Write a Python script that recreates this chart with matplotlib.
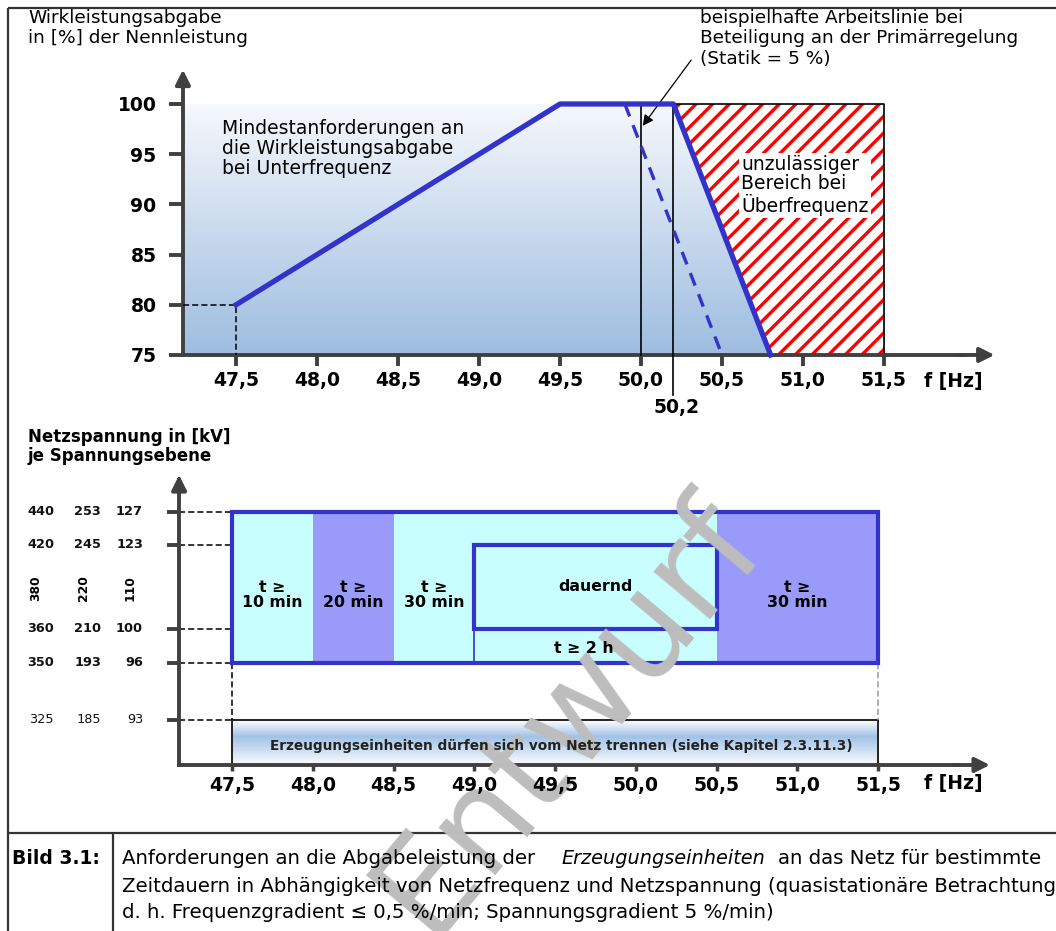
## Anforderungen an die Abgabeleistung von Erzeugungseinheiten
## two schematic panels: power vs. frequency, voltage band vs. frequency

import numpy as np
import matplotlib
matplotlib.use('Agg')
import matplotlib.pyplot as plt
from matplotlib.patches import Rectangle, Polygon
from matplotlib.colors import LinearSegmentedColormap
from matplotlib import transforms

## DATA
# upper panel: minimum active power (% of rated) over frequency
curve_f = [47.5, 49.5, 50.2, 50.8]
curve_p = [80, 100, 100, 75]
statik_f = [49.9, 50.5]           # example droop line (Statik = 5 %)
statik_p = [100, 75]
forbidden_f = [50.2, 51.5, 51.5, 50.8]
forbidden_p = [100, 100, 75, 75]
marker_f = [50.0, 50.2]

f_ticks = [47.5, 48.0, 48.5, 49.0, 49.5, 50.0, 50.5, 51.0, 51.5]
f_labels = ['47,5', '48,0', '48,5', '49,0', '49,5', '50,0', '50,5', '51,0', '51,5']
p_ticks = [75, 80, 85, 90, 95, 100]

# lower panel: voltage levels per grid level (kV)
kv_380 = [440, 420, 360, 350, 325]
kv_220 = [253, 245, 210, 193, 185]
kv_110 = [127, 123, 100, 96, 93]
nominal_kv = ['380', '220', '110']

zone_from = [47.5, 48.0, 48.5, 50.5]
zone_to = [48.0, 48.5, 50.5, 51.5]
zone_dark = [False, True, False, True]
zone_text = ['t ≥\n10 min', 't ≥\n20 min', 't ≥\n30 min', 't ≥\n30 min']
zone_text_f = [47.75, 48.25, 48.75, 51.0]

band_f = [47.5, 51.5]
band_kv = [350, 440]
cont_f = [49.0, 50.5]         # 'dauernd'
cont_kv = [360, 420]
trip_kv = 325

caption = ['Anforderungen an die Abgabeleistung der',
           'Erzeugungseinheiten',
           'an das Netz für bestimmte',
           'Zeitdauern in Abhängigkeit von Netzfrequenz und Netzspannung (quasistationäre Betrachtung,',
           'd. h. Frequenzgradient ≤ 0,5 %/min; Spannungsgradient 5 %/min)']

## STYLE
W, H = 1056, 931
BLUE = '#3333cc'
AXC = '#404040'
CYAN = '#c8fffe'
LAV = '#9a9afa'
DASH = (0, (4, 2))

fig = plt.figure(figsize=(W / 100, H / 100), dpi=100)
plt.rcParams['hatch.linewidth'] = 2.4


def px_axes(l, t, r, b):
    # axes placed by pixel box of the reference picture
    ax = fig.add_axes([l / W, 1 - b / H, (r - l) / W, (b - t) / H])
    ax.set_facecolor('none')
    return ax


## BACKGROUND: frame, caption lines, free texts
bg = px_axes(0, 0, W, H)
bg.set_xlim(0, W)
bg.set_ylim(H, 0)
bg.axis('off')
for xs, ys in [([8, W], [8, 8]), ([8, 8], [8, H]), ([8, W], [833, 833]), ([113, 113], [833, H])]:
    bg.plot(xs, ys, color='#333333', lw=1.6, solid_capstyle='butt')

bg.text(28, 9, 'Wirkleistungsabgabe\nin [%] der Nennleistung', va='top', fontsize=13.3, linespacing=1.15)
bg.text(700, 9, 'beispielhafte Arbeitslinie bei\nBeteiligung an der Primärregelung\n(Statik = 5 %)',
        va='top', fontsize=13.3, linespacing=1.17)
bg.text(28, 428, 'Netzspannung in [kV]\nje Spannungsebene', va='top', fontsize=12, fontweight='bold',
        linespacing=1.05)
bg.text(953, 382, 'f [Hz]', ha='center', va='center', fontsize=13.5, fontweight='bold')
bg.text(953, 783, 'f [Hz]', ha='center', va='center', fontsize=13.5, fontweight='bold')
bg.text(677, 407, '50,2', ha='center', va='center', fontsize=13.5, fontweight='bold')

## UPPER PANEL
ax1 = px_axes(140, 55, 1010, 415)
x0 = 47.172   # position of the y axis

cm_top = LinearSegmentedColormap.from_list('top', ['#9dbde0', '#f6f8fc'])
ax1.imshow(np.linspace(0, 1, 256).reshape(-1, 1), extent=(x0, forbidden_f[1], 75, 100),
           origin='lower', cmap=cm_top, aspect='auto', zorder=0)
ax1.set_xlim(46.907, 52.278)
ax1.set_ylim(69.02, 104.88)

ax1.add_patch(Polygon(list(zip(forbidden_f, forbidden_p)), closed=True, facecolor='white',
                      edgecolor='red', hatch='//', lw=0, zorder=1))
ax1.plot(forbidden_f[:3], forbidden_p[:3], color='black', lw=1.2, zorder=2)

ax1.plot([marker_f[0]] * 2, [100, 75], color='black', lw=1.2, zorder=3)
ax1.plot([marker_f[1]] * 2, [100, 71.0], color='black', lw=1.2, zorder=3, clip_on=False)
ax1.plot([x0, curve_f[0], curve_f[0]], [curve_p[0], curve_p[0], 75], color='black', lw=1.1,
         ls=DASH, zorder=3)

ax1.plot(statik_f, statik_p, color=BLUE, lw=2.4, ls=(0, (4, 2.8)), zorder=4)
ax1.plot(curve_f, curve_p, color=BLUE, lw=3.8, zorder=5)

ax1.text(47.414, 98.5, 'Mindestanforderungen an\ndie Wirkleistungsabgabe\nbei Unterfrequenz',
         va='top', fontsize=13.5, linespacing=1.05)
ax1.text(50.62, 94.9, 'unzulässiger\nBereich bei\nÜberfrequenz', va='top', fontsize=13.5, linespacing=1.02,
         zorder=6, bbox=dict(facecolor='white', edgecolor='none', pad=1.5))
ax1.annotate('', xy=(50.0, 97.6), xytext=(50.32, 104.6), annotation_clip=False,
             arrowprops=dict(arrowstyle='-|>', color='black', lw=0.9, mutation_scale=16))

for s in ['top', 'right']:
    ax1.spines[s].set_visible(False)
ax1.spines['left'].set_position(('data', x0))
ax1.spines['left'].set_bounds(75, 102.8)
ax1.spines['bottom'].set_position(('data', 75))
ax1.spines['bottom'].set_bounds(x0, 52.0)
for s in ['left', 'bottom']:
    ax1.spines[s].set_linewidth(2.8)
    ax1.spines[s].set_color(AXC)
    ax1.spines[s].set_capstyle('projecting')
ax1.annotate('', xy=(x0, 103.7), xytext=(x0, 102.0), annotation_clip=False,
             arrowprops=dict(arrowstyle='-|>', color=AXC, lw=2.8, mutation_scale=22))
ax1.annotate('', xy=(52.2, 75), xytext=(51.95, 75), annotation_clip=False,
             arrowprops=dict(arrowstyle='-|>', color=AXC, lw=2.8, mutation_scale=22))

ax1.set_xticks(f_ticks)
ax1.set_xticklabels(f_labels, fontsize=13.5, fontweight='bold')
ax1.set_yticks(p_ticks)
ax1.set_yticklabels([str(p) for p in p_ticks], fontsize=13.5, fontweight='bold')
ax1.tick_params(axis='x', length=8, width=2.8, color=AXC, pad=3.5)
ax1.tick_params(axis='y', length=10, width=2.8, color=AXC, pad=9)

## LOWER PANEL
ax2 = px_axes(140, 460, 1010, 800)
# schematic (not to scale) voltage axis: piecewise linear through the marked levels
axis_kv = [200, 300, 325, 350, 360, 420, 440, 600]
axis_h = [-100, 0, 45, 102, 136, 220, 253, 380]
ax2.set_yscale('function', functions=(lambda v: np.interp(v, axis_kv, axis_h),
                                      lambda h: np.interp(h, axis_h, axis_kv)))
ax2.set_xlim(46.930, 52.317)
ax2.set_ylim(265, 505.5)
base = 300

for zf, zt, dark in zip(zone_from, zone_to, zone_dark):
    ax2.add_patch(Rectangle((zf, band_kv[0]), zt - zf, band_kv[1] - band_kv[0],
                            facecolor=LAV if dark else CYAN, lw=0, zorder=1))
ax2.add_patch(Rectangle((band_f[0], band_kv[0]), band_f[1] - band_f[0], band_kv[1] - band_kv[0],
                        fill=False, edgecolor=BLUE, lw=3, zorder=3))
ax2.add_patch(Rectangle((cont_f[0], cont_kv[0]), cont_f[1] - cont_f[0], cont_kv[1] - cont_kv[0],
                        fill=False, edgecolor=BLUE, lw=3, zorder=3))
ax2.plot([cont_f[0]] * 2, [cont_kv[0], band_kv[0]], color=BLUE, lw=1.2, zorder=2)

# gradient box below the lowest voltage
yy = np.linspace(base, trip_kv, 60)
shade = np.interp((yy[:-1] - base) / (trip_kv - base), [0, 0.62, 1], [0.05, 1, 0.0])
cm_trip = LinearSegmentedColormap.from_list('trip', ['#ffffff', '#a2c2e6'])
ax2.pcolormesh(band_f, yy, shade.reshape(-1, 1), cmap=cm_trip, vmin=0, vmax=1, shading='flat', zorder=1)
ax2.add_patch(Rectangle((band_f[0], base), band_f[1] - band_f[0], trip_kv - base,
                        fill=False, edgecolor='#222222', lw=1.4, zorder=2))
ax2.text(49.54, 310.6, 'Erzeugungseinheiten dürfen sich vom Netz trennen (siehe Kapitel 2.3.11.3)',
         ha='center', va='center', fontsize=9.8, fontweight='bold', color='#222222', zorder=6)

for v in kv_380:
    ax2.plot([x0, band_f[0]], [v, v], color='black', lw=1.1, ls=DASH, zorder=2)
ax2.plot([band_f[0]] * 2, [band_kv[0], trip_kv], color='black', lw=1.1, ls=DASH, zorder=2)
ax2.plot([band_f[1]] * 2, [band_kv[0], trip_kv], color='#999999', lw=1.1, ls=DASH, zorder=2)

for txt, f in zip(zone_text, zone_text_f):
    ax2.text(f, 384.3, txt, ha='center', va='center', fontsize=11.3, fontweight='bold',
             linespacing=0.95, zorder=6)
ax2.text(49.75, 390, 'dauernd', ha='center', va='center', fontsize=11.3, fontweight='bold', zorder=6)
ax2.text(49.68, 354.4, 't ≥ 2 h', ha='center', va='center', fontsize=11.3, fontweight='bold', zorder=6)

# voltage level labels, three columns
tr = transforms.blended_transform_factory(bg.transData, ax2.transData)
for col_x, col in zip([54, 101, 143], [kv_380, kv_220, kv_110]):
    for i, v in enumerate(col):
        ax2.text(col_x, kv_380[i], str(v), transform=tr, ha='right', va='center', fontsize=9.3,
                 fontweight='bold' if i < len(col) - 1 else 'normal', color='#111111')
for col_x, s in zip([36, 83, 130], nominal_kv):
    ax2.text(col_x, 389, s, transform=tr, ha='center', va='center', rotation=90, fontsize=8.8,
             fontweight='bold')

for s in ['top', 'right']:
    ax2.spines[s].set_visible(False)
ax2.spines['left'].set_position(('data', x0))
ax2.spines['left'].set_bounds(base, 480)
ax2.spines['bottom'].set_position(('data', base))
ax2.spines['bottom'].set_bounds(x0, 52.0)
for s in ['left', 'bottom']:
    ax2.spines[s].set_linewidth(2.8)
    ax2.spines[s].set_color(AXC)
    ax2.spines[s].set_capstyle('projecting')
ax2.annotate('', xy=(x0, 490), xytext=(x0, 475), annotation_clip=False,
             arrowprops=dict(arrowstyle='-|>', color=AXC, lw=2.8, mutation_scale=22))
ax2.annotate('', xy=(52.21, base), xytext=(51.95, base), annotation_clip=False,
             arrowprops=dict(arrowstyle='-|>', color=AXC, lw=2.8, mutation_scale=22))

ax2.set_xticks(f_ticks)
ax2.set_xticklabels(f_labels, fontsize=13.5, fontweight='bold')
ax2.set_yticks(kv_380)
ax2.set_yticklabels([''] * len(kv_380))
ax2.minorticks_off()
ax2.tick_params(axis='x', length=4, width=2.5, color=AXC, pad=4)
ax2.tick_params(axis='y', length=9, width=2.8, color=AXC)
ax2.xaxis.set_zorder(6)

## WATERMARK and CAPTION (watermark above the fills, below the texts)
ax2.text(568, 715, 'Entwurf', transform=bg.transData, rotation=50, rotation_mode='anchor',
         ha='center', va='center', fontsize=97, color='#bdbdbd', zorder=4, clip_on=False)

cap = dict(transform=bg.transData, va='center', fontsize=14.2, zorder=6, clip_on=False)
ax2.text(12, 858, 'Bild 3.1:', fontweight='bold', **dict(cap, fontsize=13.5))
ax2.text(122, 858, caption[0], **cap)
ax2.text(561, 858, caption[1], style='italic', **dict(cap, fontsize=13.9))
ax2.text(778, 858, caption[2], **cap)
ax2.text(122, 886, caption[3], **cap)
ax2.text(122, 912, caption[4], **cap)

fig.savefig('out.png', dpi=100)
